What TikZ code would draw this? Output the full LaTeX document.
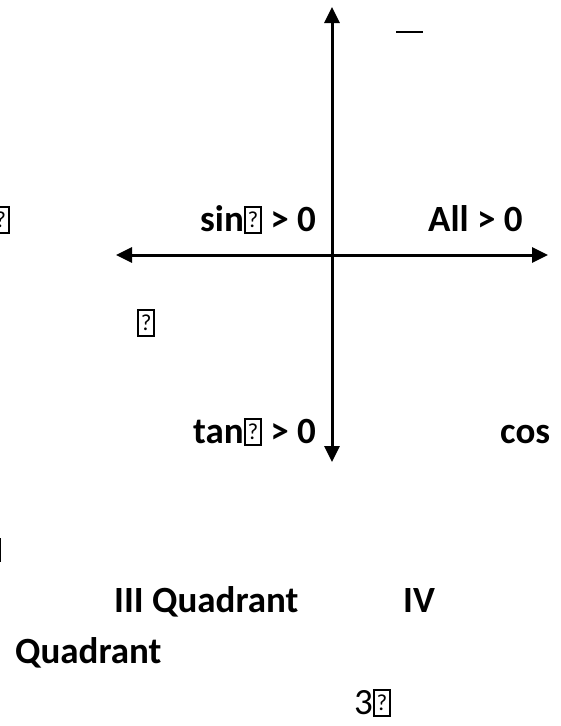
\documentclass[tikz,border=0pt]{standalone}
\usepackage{fontspec}
\usepackage{graphicx}
\setmainfont{Carlito}
\usetikzlibrary{arrows.meta}
\newcommand{\qbox}{{\setlength{\fboxsep}{0pt}\setlength{\fboxrule}{0.055em}\fbox{\makebox[0.38em]{\rule[-0.03em]{0pt}{0.64em}\raisebox{0.1em}{\scalebox{0.62}{\normalfont ?}}}}}}
\tikzset{
  lbl/.style={anchor=base west,inner sep=0pt,font=\fontsize{37}{40}\selectfont\bfseries},
  lblr/.style={anchor=base west,inner sep=0pt,font=\fontsize{37}{40}\selectfont},
  axis/.style={line width=3pt,-{Triangle[length=16pt,width=15pt]}},
}
\begin{document}
\begin{tikzpicture}[x=1pt,y=-1pt]
\useasboundingbox (0,0) rectangle (561,726);
\coordinate (o) at (332,255);
\coordinate (top) at (332,7);
\coordinate (bot) at (332,462);
\coordinate (lft) at (116,255);
\coordinate (rgt) at (548,255);
\draw[axis] (o) -- (top);
\draw[axis] (o) -- (bot);
\draw[axis] (o) -- (lft);
\draw[axis] (o) -- (rgt);
\coordinate (ba) at (396,32);
\coordinate (bb) at (423,32);
\draw[line width=1.2pt] (ba) -- (bb);
\node[lbl,anchor=base east] (q1) at (10,231) {\qbox};
\node[lbl] (sin) at (200,231) {sin\qbox{} > 0};
\node[lbl] (all) at (428,231) {All > 0};
\node[lbl] (q2) at (137,334) {\qbox};
\node[lbl] (tan) at (193,443) {tan\qbox{} > 0};
\node[lbl] (cos) at (500,443) {cos};
\coordinate (va) at (0.7,538);
\coordinate (vb) at (0.7,562);
\draw[line width=1.4pt] (va) -- (vb);
\node[lbl] (q3) at (114,612) {III Quadrant};
\node[lbl] (q4) at (403,612) {IV};
\node[lbl] (quad) at (15,663) {Quadrant};
\node[lblr] (tp) at (354,714) {3\qbox};
\end{tikzpicture}
\end{document}
